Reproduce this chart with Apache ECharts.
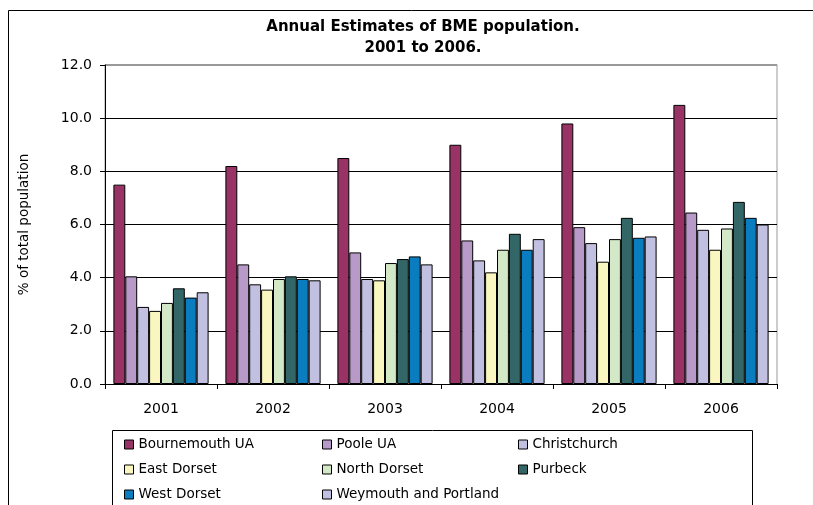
<!DOCTYPE html>
<html lang="en">
<head>
    <meta charset="UTF-8">
    <title>BME population</title>
    <script src="https://cdn.jsdelivr.net/npm/echarts@6/dist/echarts.min.js"></script>
    <style>
        body { margin: 0; background: #fff; }
    </style>
</head>
<body>
    <div id="main" style="width: 813px;height:505px;"></div>
    <script type="text/javascript">
        // years on the x axis
        let years = ['2001', '2002', '2003', '2004', '2005', '2006'];
        let yTicks = ['0.0', '2.0', '4.0', '6.0', '8.0', '10.0', '12.0'];

        // % of total population
        let bournemouth = [7.5, 8.2, 8.5, 9.0, 9.8, 10.5];
        let poole = [4.05, 4.5, 4.95, 5.4, 5.9, 6.45];
        let christchurch = [2.9, 3.75, 3.95, 4.65, 5.3, 5.8];
        let eastDorset = [2.75, 3.55, 3.9, 4.2, 4.6, 5.05];
        let northDorset = [3.05, 3.95, 4.55, 5.05, 5.45, 5.85];
        let purbeck = [3.6, 4.05, 4.7, 5.65, 6.25, 6.85];
        let westDorset = [3.25, 3.95, 4.8, 5.05, 5.5, 6.25];
        let weymouth = [3.45, 3.9, 4.5, 5.45, 5.55, 6.0];

        let names = ['Bournemouth UA', 'Poole UA', 'Christchurch', 'East Dorset',
            'North Dorset', 'Purbeck', 'West Dorset', 'Weymouth and Portland'];
        let values = [bournemouth, poole, christchurch, eastDorset,
            northDorset, purbeck, westDorset, weymouth];
        let colors = ['#993366', '#b89ac8', '#c2c0e0', '#faf6c0',
            '#d2e8c6', '#336666', '#0a7cc0', '#c2c0e0'];

        let font = 'DejaVu Sans';

        let series = names.map((n, i) => ({
            name: n,
            type: 'bar',
            data: values[i],
            barGap: '0%',
            barCategoryGap: '15%',
            itemStyle: { color: colors[i], borderColor: '#000', borderWidth: 1 }
        }));

        // one legend per column, as in the original box
        let legendCol = (data, left) => ({
            data: data,
            orient: 'vertical',
            left: left,
            top: 437,
            height: 120,
            padding: 0,
            icon: 'rect',
            itemWidth: 9,
            itemHeight: 9,
            itemGap: 10,
            itemStyle: { borderColor: '#000', borderWidth: 1 },
            textStyle: { fontFamily: font, fontSize: 13.5, color: '#000', lineHeight: 15 },
            selectedMode: false
        });

        let options = {
            animation: false,
            title: {
                text: 'Annual Estimates of BME population.\n2001 to 2006.',
                left: 418,
                textAlign: 'center',
                top: 12,
                textStyle: { fontFamily: font, fontSize: 15, fontWeight: 'bold', color: '#000', lineHeight: 21 }
            },
            grid: { left: 105, right: 36, top: 65, bottom: 121 },
            xAxis: {
                type: 'category',
                data: years,
                axisLine: { lineStyle: { color: '#000' } },
                axisTick: { show: true, length: 5, lineStyle: { color: '#000' } },
                axisLabel: { fontFamily: font, fontSize: 14, color: '#000', margin: 18 }
            },
            yAxis: {
                type: 'value',
                min: 0,
                max: 12,
                interval: 2,
                name: '% of total population',
                nameLocation: 'middle',
                nameGap: 74,
                nameTextStyle: { fontFamily: font, fontSize: 13.5, color: '#000' },
                axisLine: { show: true, lineStyle: { color: '#000' } },
                axisTick: { show: true, length: 5, lineStyle: { color: '#000' } },
                axisLabel: {
                    fontFamily: font, fontSize: 14, color: '#000', margin: 13,
                    formatter: (v) => yTicks[Math.round(v / 2)]
                },
                splitLine: { lineStyle: { color: ['#000', '#000', '#000', '#000', '#000', '#000', '#999'], width: 1 } }
            },
            legend: [
                legendCol([names[0], names[3], names[6]], 124),
                legendCol([names[1], names[4], names[7]], 322),
                legendCol([names[2], names[5]], 518)
            ],
            graphic: [
                { type: 'rect', shape: { x: 8.5, y: 10.5, width: 820, height: 520 },
                  style: { fill: 'none', stroke: '#000', lineWidth: 1 }, z: -1 },
                { type: 'rect', shape: { x: 105, y: 64.5, width: 672, height: 320 },
                  style: { fill: 'none', stroke: '#999', lineWidth: 1 }, z: -1 },
                { type: 'rect', shape: { x: 112.5, y: 430.5, width: 640, height: 100 },
                  style: { fill: 'none', stroke: '#000', lineWidth: 1 }, z: -1 }
            ],
            series: series
        };

        let myChart = echarts.init(document.getElementById('main'));
        myChart.setOption(options);
    </script>
</body>
</html>
